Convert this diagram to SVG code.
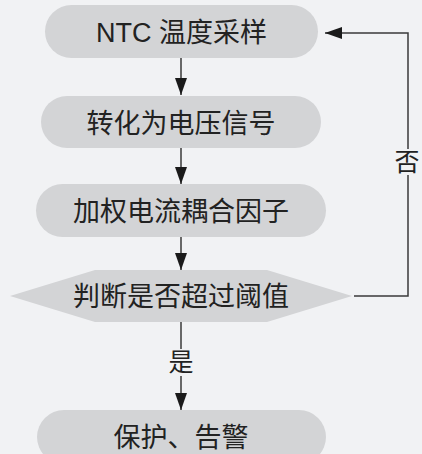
<svg xmlns="http://www.w3.org/2000/svg" width="422" height="454" viewBox="0 0 422 454">
<defs>
<style>
.node{fill:#d3d4d6;}
.t{font-family:"Liberation Sans","Noto Sans CJK SC",sans-serif;font-size:27px;fill:#222;text-anchor:middle;}
.lbl{font-family:"Noto Sans CJK SC",sans-serif;font-size:25px;fill:#222;text-anchor:middle;}
.ln{stroke:#3a3a3a;stroke-width:1.5;fill:none;}
.bg{fill:#f1f2f4;}
</style>
<marker id="ah" viewBox="0 0 17 12" refX="17" refY="6" markerWidth="17" markerHeight="12" markerUnits="userSpaceOnUse" orient="auto">
<path d="M0,0 L17,6 L0,12 Z" fill="#1a1a1a"/>
</marker>
</defs>
<rect width="422" height="454" fill="#f1f2f4"/>
<g id="connectors">
<line class="ln" x1="181" y1="58" x2="181" y2="95" marker-end="url(#ah)"/>
<line class="ln" x1="181" y1="148" x2="181" y2="184" marker-end="url(#ah)"/>
<line class="ln" x1="181" y1="237" x2="181" y2="270" marker-end="url(#ah)"/>
<line class="ln" x1="181" y1="322" x2="181" y2="410" marker-end="url(#ah)"/>
<polyline class="ln" points="354,296 408,296 408,33 325,33" marker-end="url(#ah)"/>
<rect class="bg" x="394" y="149" width="28" height="26"/>
<text class="lbl" x="407" y="171">否</text>
<rect class="bg" x="166" y="349" width="30" height="27"/>
<text class="lbl" x="181" y="371">是</text>
</g>
<g id="n1">
<rect class="node" x="45" y="5" width="273" height="53" rx="26.5"/>
<text class="t" x="181.5" y="41.5">NTC 温度采样</text>
</g>
<g id="n2">
<rect class="node" x="41" y="96" width="280" height="52" rx="26"/>
<text class="t" x="181" y="132.5">转化为电压信号</text>
</g>
<g id="n3">
<rect class="node" x="36" y="184" width="290" height="53" rx="26.5"/>
<text class="t" x="181" y="220.5">加权电流耦合因子</text>
</g>
<g id="n4">
<polygon class="node" points="10,296 95,270 267,270 352,296 267,322 95,322"/>
<text class="t" x="181" y="305.5">判断是否超过阈值</text>
</g>
<g id="n5">
<rect class="node" x="37" y="410" width="289" height="54" rx="27"/>
<text class="t" x="181" y="446.5">保护、告警</text>
</g>
</svg>
